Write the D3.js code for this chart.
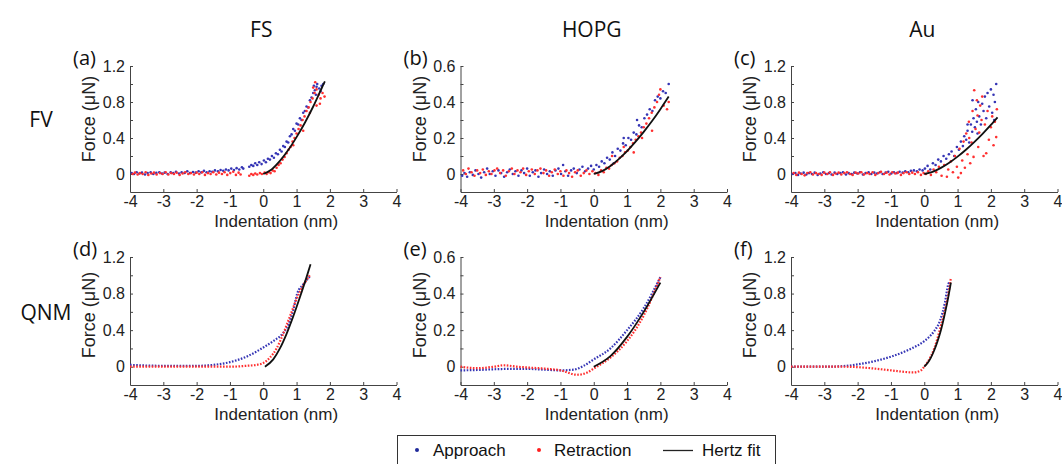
<!DOCTYPE html>
<html>
<head>
<meta charset="utf-8">
<script src="https://cdn.jsdelivr.net/npm/d3@7"></script>
<style>
body { margin: 0; background: #fff; }
</style>
</head>
<body>
<script>
// ---- tick values / labels ----
var xTicks = [-4, -3, -2, -1, 0, 1, 2, 3, 4];
var yTicksBig = [0, 0.2, 0.4, 0.6, 0.8, 1.0, 1.2];
var yLabelsBig = [0, 0.4, 0.8, 1.2];
var yTicksSmall = [0, 0.1, 0.2, 0.3, 0.4, 0.5, 0.6];
var yLabelsSmall = [0, 0.2, 0.4, 0.6];
var colTitles = ["FS", "HOPG", "Au"];
var rowTitles = ["FV", "QNM"];
var panelLetters = ["(a)", "(b)", "(c)", "(d)", "(e)", "(f)"];
var legendKeys = ["Approach", "Retraction", "Hertz fit"];

// ---- (a) FS, FV ----
var fsFvApproach = [[-3.95,0.01],[-3.88,0.0],[-3.8,0.02],[-3.72,0.005],[-3.64,0.015],[-3.55,-0.005],[-3.47,0.01],[-3.38,0.02],[-3.3,0.0],[-3.21,0.012],[-3.12,0.02],[-3.04,0.005],[-2.96,0.015],[-2.87,0.0],[-2.78,0.018],[-2.7,0.01],[-2.62,0.025],[-2.53,0.005],[-2.45,0.02],[-2.36,0.012],[-2.28,0.03],[-2.2,0.01],[-2.11,0.022],[-2.03,0.015],[-1.94,0.03],[-1.86,0.018],[-1.78,0.035],[-1.7,0.02],[-1.61,0.03],[-1.53,0.025],[-1.45,0.04],[-1.36,0.03],[-1.28,0.045],[-1.2,0.035],[-1.12,0.05],[-1.04,0.04],[-0.96,0.06],[-0.88,0.045],[-0.8,0.065],[-0.72,0.05],[-0.64,0.075],[-0.6,0.06],
  [-0.42,0.08],[-0.36,0.1],[-0.3,0.09],[-0.24,0.12],[-0.18,0.1],[-0.12,0.13],[-0.05,0.11],[0.02,0.15],[0.08,0.13],[0.14,0.17],[0.2,0.16],[0.26,0.2],[0.32,0.18],[0.38,0.23],[0.44,0.22],[0.5,0.27],[0.55,0.25],[0.6,0.31],[0.65,0.3],[0.7,0.36],[0.75,0.35],[0.8,0.42],[0.85,0.44],[0.9,0.5],[0.95,0.48],[1.0,0.56],[1.05,0.55],[1.1,0.62],[1.15,0.6],[1.2,0.68],[1.25,0.7],[1.3,0.75],[1.35,0.74],[1.4,0.82],[1.45,0.85],[1.5,0.9],[1.55,0.93],[1.6,0.97],[1.62,1.0],[1.52,0.98],[1.58,0.88],[1.68,0.95],[1.75,0.98],[1.8,1.0],[1.72,0.92]];
var fsFvRetraction = [[-3.92,0.0],[-3.85,0.015],[-3.77,-0.005],[-3.7,0.01],[-3.62,0.0],[-3.53,0.02],[-3.45,-0.01],[-3.36,0.005],[-3.28,0.015],[-3.2,-0.005],[-3.1,0.01],[-3.02,0.0],[-2.93,0.02],[-2.85,-0.005],[-2.76,0.01],[-2.68,0.0],[-2.6,0.015],[-2.51,-0.01],[-2.42,0.005],[-2.34,0.02],[-2.25,0.0],[-2.17,0.01],[-2.08,-0.005],[-2.0,0.015],[-1.92,0.0],[-1.83,0.02],[-1.75,-0.01],[-1.66,0.01],[-1.58,0.0],[-1.5,0.02],[-1.41,-0.005],[-1.33,0.015],[-1.24,0.0],[-1.16,0.02],[-1.08,-0.01],[-0.99,0.01],[-0.9,0.025],[-0.82,-0.01],[-0.74,0.015],[-0.68,-0.005],
  [-0.42,-0.02],[-0.36,0.0],[-0.3,-0.01],[-0.24,0.005],[-0.18,-0.005],[-0.1,0.01],[-0.04,0.0],[0.04,0.015],[0.1,0.0],[0.16,0.02],[0.22,0.01],
  [0.28,0.04],[0.34,0.03],[0.4,0.07],[0.46,0.1],[0.52,0.12],[0.58,0.16],[0.64,0.19],[0.7,0.23],[0.76,0.27],[0.82,0.3],[0.88,0.36],[0.94,0.4],[1.0,0.45],[1.06,0.5],[1.12,0.54],[1.18,0.6],[1.24,0.64],[1.3,0.7],[1.36,0.74],[1.42,0.8],[1.48,0.84],[1.54,0.9],[1.6,0.94],[1.56,1.02],[1.5,0.96],[1.66,0.88],[1.72,0.84],[1.78,0.9],[1.84,0.86],[1.7,0.78],[1.6,0.76],[1.2,0.48],[1.4,0.68],[0.9,0.32]];
var fsFvFit = [[0,0],[0.25,0.05],[0.5,0.145],[0.75,0.266],[1.0,0.41],[1.25,0.57],[1.5,0.75],[1.75,0.95],[1.85,1.03]];

// ---- (b) HOPG, FV ----
var hopgFvApproach = [[-3.95,-0.01],[-3.88,0.005],[-3.8,-0.015],[-3.72,0.01],[-3.63,-0.005],[-3.55,0.02],[-3.46,0.0],[-3.38,-0.02],[-3.29,0.01],[-3.2,0.03],[-3.12,0.0],[-3.03,0.015],[-2.95,-0.01],[-2.86,0.02],[-2.78,0.005],[-2.69,-0.015],[-2.6,0.01],[-2.52,0.025],[-2.43,0.0],[-2.35,0.015],[-2.26,-0.01],[-2.17,0.02],[-2.09,0.005],[-2.0,0.03],[-1.92,-0.01],[-1.83,0.01],[-1.75,0.02],[-1.66,-0.015],[-1.58,0.005],[-1.49,0.025],[-1.4,0.0],[-1.32,0.015],[-1.23,-0.01],[-1.15,0.02],[-1.06,0.03],[-0.98,0.0],[-0.92,0.05],[-0.85,0.015],[-0.77,-0.01],[-0.68,0.02],[-0.6,0.03],[-0.51,0.005],[-0.43,0.025],[-0.34,0.04],[-0.26,0.015],[-0.17,0.03],[-0.08,0.045],[0.0,0.025],
  [0.08,0.05],[0.16,0.04],[0.24,0.07],[0.32,0.06],[0.4,0.09],[0.48,0.08],[0.56,0.12],[0.64,0.1],[0.72,0.14],[0.8,0.13],[0.88,0.17],[0.96,0.16],[1.04,0.2],[1.12,0.19],[1.2,0.23],[1.28,0.22],[1.36,0.27],[1.44,0.26],[1.52,0.31],[1.6,0.33],[1.68,0.36],[1.76,0.35],[1.84,0.41],[1.92,0.43],[2.0,0.42],[2.08,0.46],[2.16,0.45],[2.25,0.5],[1.3,0.3],[0.9,0.2],[0.6,0.06]];
var hopgFvRetraction = [[-3.92,0.02],[-3.84,0.0],[-3.76,0.03],[-3.67,0.01],[-3.58,-0.01],[-3.5,0.02],[-3.41,0.005],[-3.33,0.025],[-3.24,-0.005],[-3.15,0.015],[-3.07,0.0],[-2.98,0.02],[-2.9,0.03],[-2.81,0.005],[-2.72,0.02],[-2.64,-0.01],[-2.55,0.015],[-2.46,0.03],[-2.38,0.0],[-2.29,0.02],[-2.2,0.01],[-2.12,0.03],[-2.03,-0.005],[-1.95,0.015],[-1.86,0.025],[-1.77,0.0],[-1.69,0.02],[-1.6,0.03],[-1.51,0.005],[-1.43,0.02],[-1.34,-0.01],[-1.26,0.01],[-1.17,0.025],[-1.08,0.0],[-1.0,0.015],[-0.91,-0.01],[-0.82,0.02],[-0.74,0.005],[-0.65,-0.015],[-0.56,0.01],[-0.48,0.02],[-0.39,-0.01],[-0.3,0.005],[-0.22,0.02],[-0.13,0.0],[-0.04,0.015],[0.05,0.005],[0.14,-0.005],
  [0.22,0.02],[0.3,0.01],[0.38,0.035],[0.46,0.03],[0.54,0.05],[0.62,0.06],[0.7,0.07],[0.78,0.09],[0.86,0.1],[0.94,0.12],[1.02,0.13],[1.1,0.15],[1.18,0.17],[1.26,0.19],[1.34,0.21],[1.42,0.23],[1.5,0.26],[1.58,0.28],[1.66,0.31],[1.74,0.34],[1.82,0.37],[1.9,0.4],[1.96,0.44],[2.0,0.47],[2.1,0.38],[2.2,0.36],[2.25,0.4],[1.75,0.24],[1.45,0.2],[1.2,0.12],[0.9,0.15],[0.55,0.1]];
var hopgFvFit = [[0,0],[0.25,0.016],[0.5,0.045],[0.75,0.083],[1.0,0.127],[1.25,0.178],[1.5,0.234],[1.75,0.294],[2.0,0.36],[2.25,0.43]];

// ---- (c) Au, FV ----
var auFvApproach = [[-3.95,0.0],[-3.87,0.01],[-3.79,-0.01],[-3.71,0.005],[-3.62,0.015],[-3.54,-0.005],[-3.46,0.01],[-3.37,0.0],[-3.29,0.015],[-3.2,-0.01],[-3.12,0.005],[-3.03,0.02],[-2.95,0.0],[-2.86,0.01],[-2.78,-0.005],[-2.69,0.015],[-2.61,0.0],[-2.52,0.01],[-2.44,0.02],[-2.35,-0.005],[-2.27,0.01],[-2.18,0.0],[-2.1,0.015],[-2.01,0.005],[-1.93,0.02],[-1.84,-0.005],[-1.76,0.01],[-1.67,0.02],[-1.59,0.0],[-1.5,0.015],[-1.42,0.005],[-1.33,0.02],[-1.25,0.0],[-1.16,0.015],[-1.08,0.025],[-0.99,0.005],[-0.91,0.02],[-0.82,0.01],[-0.74,0.025],[-0.65,0.015],[-0.57,0.03],[-0.48,0.02],[-0.4,0.035],[-0.31,0.04],[-0.22,0.03],[-0.14,0.05],[-0.05,0.04],
  [0.02,0.06],[0.1,0.09],[0.18,0.05],[0.26,0.12],[0.34,0.1],[0.42,0.16],[0.5,0.14],[0.58,0.2],[0.66,0.17],[0.74,0.22],[0.82,0.25],[0.9,0.2],[0.98,0.3],[1.04,0.27],[1.1,0.36],[1.16,0.31],[1.2,0.42],[1.26,0.38],[1.3,0.48],[1.35,0.35],[1.4,0.55],[1.44,0.47],[1.48,0.62],[1.52,0.52],[1.55,0.72],[1.58,0.58],[1.62,0.8],[1.65,0.64],[1.7,0.55],[1.74,0.78],[1.78,0.7],[1.82,0.86],[1.86,0.62],[1.9,0.9],[1.95,0.75],[2.0,0.94],[2.04,0.68],[2.08,0.88],[2.12,0.8],[2.16,1.0],[1.45,0.82],[1.6,0.45],[1.3,0.55],[2.1,0.6]];
var auFvRetraction = [[-3.92,0.01],[-3.84,-0.01],[-3.76,0.015],[-3.68,0.0],[-3.59,-0.015],[-3.51,0.01],[-3.42,0.02],[-3.34,-0.005],[-3.25,0.01],[-3.17,0.0],[-3.08,-0.01],[-3.0,0.015],[-2.91,0.0],[-2.83,0.02],[-2.74,-0.01],[-2.66,0.005],[-2.57,0.015],[-2.49,-0.005],[-2.4,0.01],[-2.32,0.02],[-2.23,0.0],[-2.15,-0.01],[-2.06,0.015],[-1.98,0.005],[-1.89,0.02],[-1.81,-0.005],[-1.72,0.01],[-1.64,0.0],[-1.55,0.02],[-1.47,-0.01],[-1.38,0.01],[-1.3,0.025],[-1.21,0.0],[-1.13,0.015],[-1.04,-0.005],[-0.96,0.02],[-0.87,0.005],[-0.79,0.015],[-0.7,-0.01],[-0.62,0.01],[-0.53,0.02],[-0.45,0.0],[-0.36,0.015],[-0.28,0.0],[-0.19,0.02],[-0.1,-0.01],[-0.02,0.01],
  [0.05,0.0],[0.12,0.03],[0.2,-0.01],[0.28,0.05],[0.36,0.02],[0.44,0.08],[0.52,-0.02],[0.6,0.1],[0.68,-0.03],[0.72,0.05],[0.8,0.14],[0.86,0.02],[0.92,0.2],[0.98,0.08],[1.02,-0.04],[1.06,0.28],[1.1,0.01],[1.14,0.15],[1.18,0.36],[1.22,0.07],[1.26,0.45],[1.3,0.22],[1.34,0.58],[1.38,0.12],[1.42,0.35],[1.45,0.7],[1.48,0.19],[1.5,0.93],[1.54,0.5],[1.58,0.82],[1.62,0.3],[1.65,0.46],[1.68,0.76],[1.72,0.6],[1.74,0.86],[1.78,0.2],[1.82,0.55],[1.86,0.23],[1.9,0.7],[1.94,0.38],[2.0,0.52],[2.04,0.64],[2.08,0.32],[2.12,0.58],[2.16,0.41],[2.18,0.72],[1.6,0.65],[1.35,0.4]];
var auFvFit = [[0,0],[0.25,0.024],[0.5,0.068],[0.75,0.125],[1.0,0.193],[1.25,0.27],[1.5,0.355],[1.75,0.447],[2.0,0.546],[2.2,0.63]];

// ---- (d) FS, QNM ----
var fsQnmApproach = [[-4,0.02],[-3,0.01],[-2,0.01],[-1.5,0.02],[-1,0.05],[-0.5,0.11],[0,0.21],[0.3,0.28],[0.6,0.37],[0.75,0.46],[0.9,0.62],[1.02,0.8],[1.2,0.9],[1.41,0.99]];
var fsQnmRetraction = [[-4,0.0],[-3,0.0],[-2,0.0],[-1,0.0],[-0.5,0.01],[-0.2,0.02],[0,0.04],[0.2,0.1],[0.4,0.2],[0.6,0.36],[0.8,0.55],[1.0,0.74],[1.2,0.89],[1.4,1.0]];
var fsQnmFit = [[0.05,0],[0.3,0.08],[0.5,0.2],[0.7,0.36],[0.9,0.55],[1.1,0.76],[1.3,0.98],[1.42,1.12]];

// ---- (e) HOPG, QNM ----
var hopgQnmApproach = [[-4,-0.02],[-3.5,-0.018],[-3,-0.014],[-2.5,-0.012],[-2,-0.012],[-1.5,-0.016],[-1,-0.02],[-0.6,-0.016],[-0.3,0.005],[0,0.04],[0.5,0.1],[1.0,0.2],[1.5,0.32],[2.0,0.49]];
var hopgQnmRetraction = [[-4,0.0],[-3.5,-0.008],[-3,0.0],[-2.7,0.008],[-2.3,0.0],[-2,-0.004],[-1.5,-0.01],[-1,-0.02],[-0.5,-0.044],[-0.2,-0.032],[0,-0.01],[0.5,0.05],[1.0,0.14],[1.5,0.28],[2.0,0.49]];
var hopgQnmFit = [[0,0],[0.5,0.058],[1.0,0.163],[1.5,0.3],[2.0,0.46]];

// ---- (f) Au, QNM ----
var auQnmApproach = [[-4,0.0],[-3,0.0],[-2.5,0.005],[-2,0.025],[-1.5,0.06],[-1,0.11],[-0.5,0.18],[0,0.28],[0.1,0.31],[0.3,0.39],[0.48,0.51],[0.62,0.7],[0.72,0.9],[0.76,0.93]];
var auQnmRetraction = [[-4,0.0],[-3,0.0],[-2.5,0.0],[-2,-0.005],[-1.5,-0.02],[-1,-0.04],[-0.33,-0.062],[-0.1,-0.04],[0,0.0],[0.1,0.05],[0.3,0.2],[0.5,0.45],[0.7,0.75],[0.8,0.97]];
var auQnmFit = [[0,0],[0.1,0.04],[0.2,0.1],[0.3,0.18],[0.4,0.28],[0.5,0.4],[0.6,0.55],[0.7,0.72],[0.8,0.92]];

// ---- layout ----
var width = 1062, height = 464;
var colX = [130, 460.5, 791];
var plotW = 266.5;
var rowY = [[66, 192], [257, 385]];
var blue = "#3535b5", red = "#ff2f2f", axisColor = "#444", textColor = "#222";
var tickFont = "'Liberation Sans', Arial, sans-serif";
var titleFont = "'Open Sans', 'Noto Sans', sans-serif";

var panels = [
  {row: 0, col: 0, ymax: 1.2, ap: fsFvApproach, re: fsFvRetraction, fit: fsFvFit, dots: true},
  {row: 0, col: 1, ymax: 0.6, ap: hopgFvApproach, re: hopgFvRetraction, fit: hopgFvFit, dots: true},
  {row: 0, col: 2, ymax: 1.2, ap: auFvApproach, re: auFvRetraction, fit: auFvFit, dots: true},
  {row: 1, col: 0, ymax: 1.2, ap: fsQnmApproach, re: fsQnmRetraction, fit: fsQnmFit, dots: false},
  {row: 1, col: 1, ymax: 0.6, ap: hopgQnmApproach, re: hopgQnmRetraction, fit: hopgQnmFit, dots: false},
  {row: 1, col: 2, ymax: 1.2, ap: auQnmApproach, re: auQnmRetraction, fit: auQnmFit, dots: false}
];

var svg = d3.select("body")
            .append("svg")
            .attr("width", width)
            .attr("height", height);

panels.forEach(function(p, i) {
  var x0 = colX[p.col], y0 = rowY[p.row][0], y1 = rowY[p.row][1];
  var big = p.ymax > 1;

  var xScale = d3.scaleLinear().domain([-4, 4]).range([x0, x0 + plotW]);
  var yScale = d3.scaleLinear().domain(big ? [-0.2, 1.2] : [-0.1, 0.6]).range([y1, y0]);
  var yTicks = big ? yTicksBig : yTicksSmall;
  var yLabels = big ? yLabelsBig : yLabelsSmall;

  var gx = svg.append("g")
     .attr("transform", "translate(0," + y1 + ")")
     .call(d3.axisBottom(xScale).tickValues(xTicks)
             .tickSizeInner(-3).tickSizeOuter(0).tickPadding(4)
             .tickFormat(function(d) { return String(d); }));

  var gy = svg.append("g")
     .attr("transform", "translate(" + x0 + ",0)")
     .call(d3.axisLeft(yScale).tickValues(yTicks)
             .tickSizeInner(-3).tickSizeOuter(0).tickPadding(5)
             .tickFormat(function(d) { return yLabels.indexOf(d) >= 0 ? String(d) : ""; }));

  [gx, gy].forEach(function(g) {
    g.attr("font-family", tickFont).attr("font-size", 16);
    g.select(".domain").attr("stroke", axisColor);
    g.selectAll(".tick line").attr("stroke", axisColor);
    g.selectAll(".tick text").attr("fill", textColor);
  });

  // axis titles
  svg.append("text")
     .attr("x", x0 + plotW / 2 + 13)
     .attr("y", y1 + 35)
     .attr("text-anchor", "middle")
     .attr("font-family", tickFont)
     .attr("font-size", 17)
     .attr("fill", textColor)
     .text("Indentation (nm)");

  var ly = (y0 + y1) / 2 - (p.row == 0 ? 10 : 6);
  svg.append("text")
     .attr("transform", "translate(" + (x0 - 35) + "," + ly + ") rotate(-90)")
     .attr("text-anchor", "middle")
     .attr("font-family", tickFont)
     .attr("font-size", 18)
     .attr("fill", textColor)
     .text("Force (μN)");

  svg.append("text")
     .attr("x", x0 - 57)
     .attr("y", y0 - 1)
     .attr("font-family", titleFont)
     .attr("font-size", 20)
     .attr("fill", "#111")
     .text(panelLetters[i]);

  var plot = svg.append("g");

  if (p.dots) {
    [[p.ap, blue], [p.re, red]].forEach(function(s) {
      plot.selectAll(null)
          .data(s[0])
          .enter()
          .append("circle")
          .attr("cx", function(d) { return xScale(d[0]); })
          .attr("cy", function(d) { return yScale(d[1]); })
          .attr("r", 1.3)
          .attr("fill", s[1]);
    });
  } else {
    var dotted = d3.line()
                   .x(function(d) { return xScale(d[0]); })
                   .y(function(d) { return yScale(d[1]); })
                   .curve(d3.curveMonotoneX);
    [[p.ap, blue], [p.re, red]].forEach(function(s) {
      plot.append("path")
          .attr("d", dotted(s[0]))
          .attr("fill", "none")
          .attr("stroke", s[1])
          .attr("stroke-width", 2.2)
          .attr("stroke-dasharray", "1.6,1.5");
    });
  }

  var fitLine = d3.line()
                  .x(function(d) { return xScale(d[0]); })
                  .y(function(d) { return yScale(d[1]); })
                  .curve(d3.curveMonotoneX);
  plot.append("path")
      .attr("d", fitLine(p.fit))
      .attr("fill", "none")
      .attr("stroke", "#111")
      .attr("stroke-width", 1.8);
});

// column & row titles
colTitles.forEach(function(t, i) {
  svg.append("text")
     .attr("x", colX[i] + plotW / 2 - 2)
     .attr("y", 37)
     .attr("text-anchor", "middle")
     .attr("font-family", titleFont)
     .attr("font-size", 21)
     .attr("fill", "#111")
     .text(t);
});

var rowTitleY = [127, 320];
var rowTitleX = [41, 46];
rowTitles.forEach(function(t, i) {
  svg.append("text")
     .attr("x", rowTitleX[i])
     .attr("y", rowTitleY[i])
     .attr("text-anchor", "middle")
     .attr("font-family", titleFont)
     .attr("font-size", 21)
     .attr("fill", "#111")
     .text(t);
});

// legend
var legend = svg.append("g");
legend.append("rect")
      .attr("x", 397.5)
      .attr("y", 435.5)
      .attr("width", 378)
      .attr("height", 40)
      .attr("fill", "#fff")
      .attr("stroke", "#333");

var keyX = [433, 554, 702];
legend.append("circle").attr("cx", 417).attr("cy", 450).attr("r", 2).attr("fill", "#1f2a9a");
legend.append("circle").attr("cx", 539).attr("cy", 450).attr("r", 2).attr("fill", "#ff1f1f");
legend.append("line").attr("x1", 663).attr("x2", 693).attr("y1", 450.5).attr("y2", 450.5)
      .attr("stroke", "#222").attr("stroke-width", 1.3);

legend.selectAll("text")
      .data(legendKeys)
      .enter()
      .append("text")
      .attr("x", function(d, i) { return keyX[i]; })
      .attr("y", 456)
      .attr("font-family", tickFont)
      .attr("font-size", 17)
      .attr("fill", "#111")
      .text(function(d) { return d; });
</script>
</body>
</html>
